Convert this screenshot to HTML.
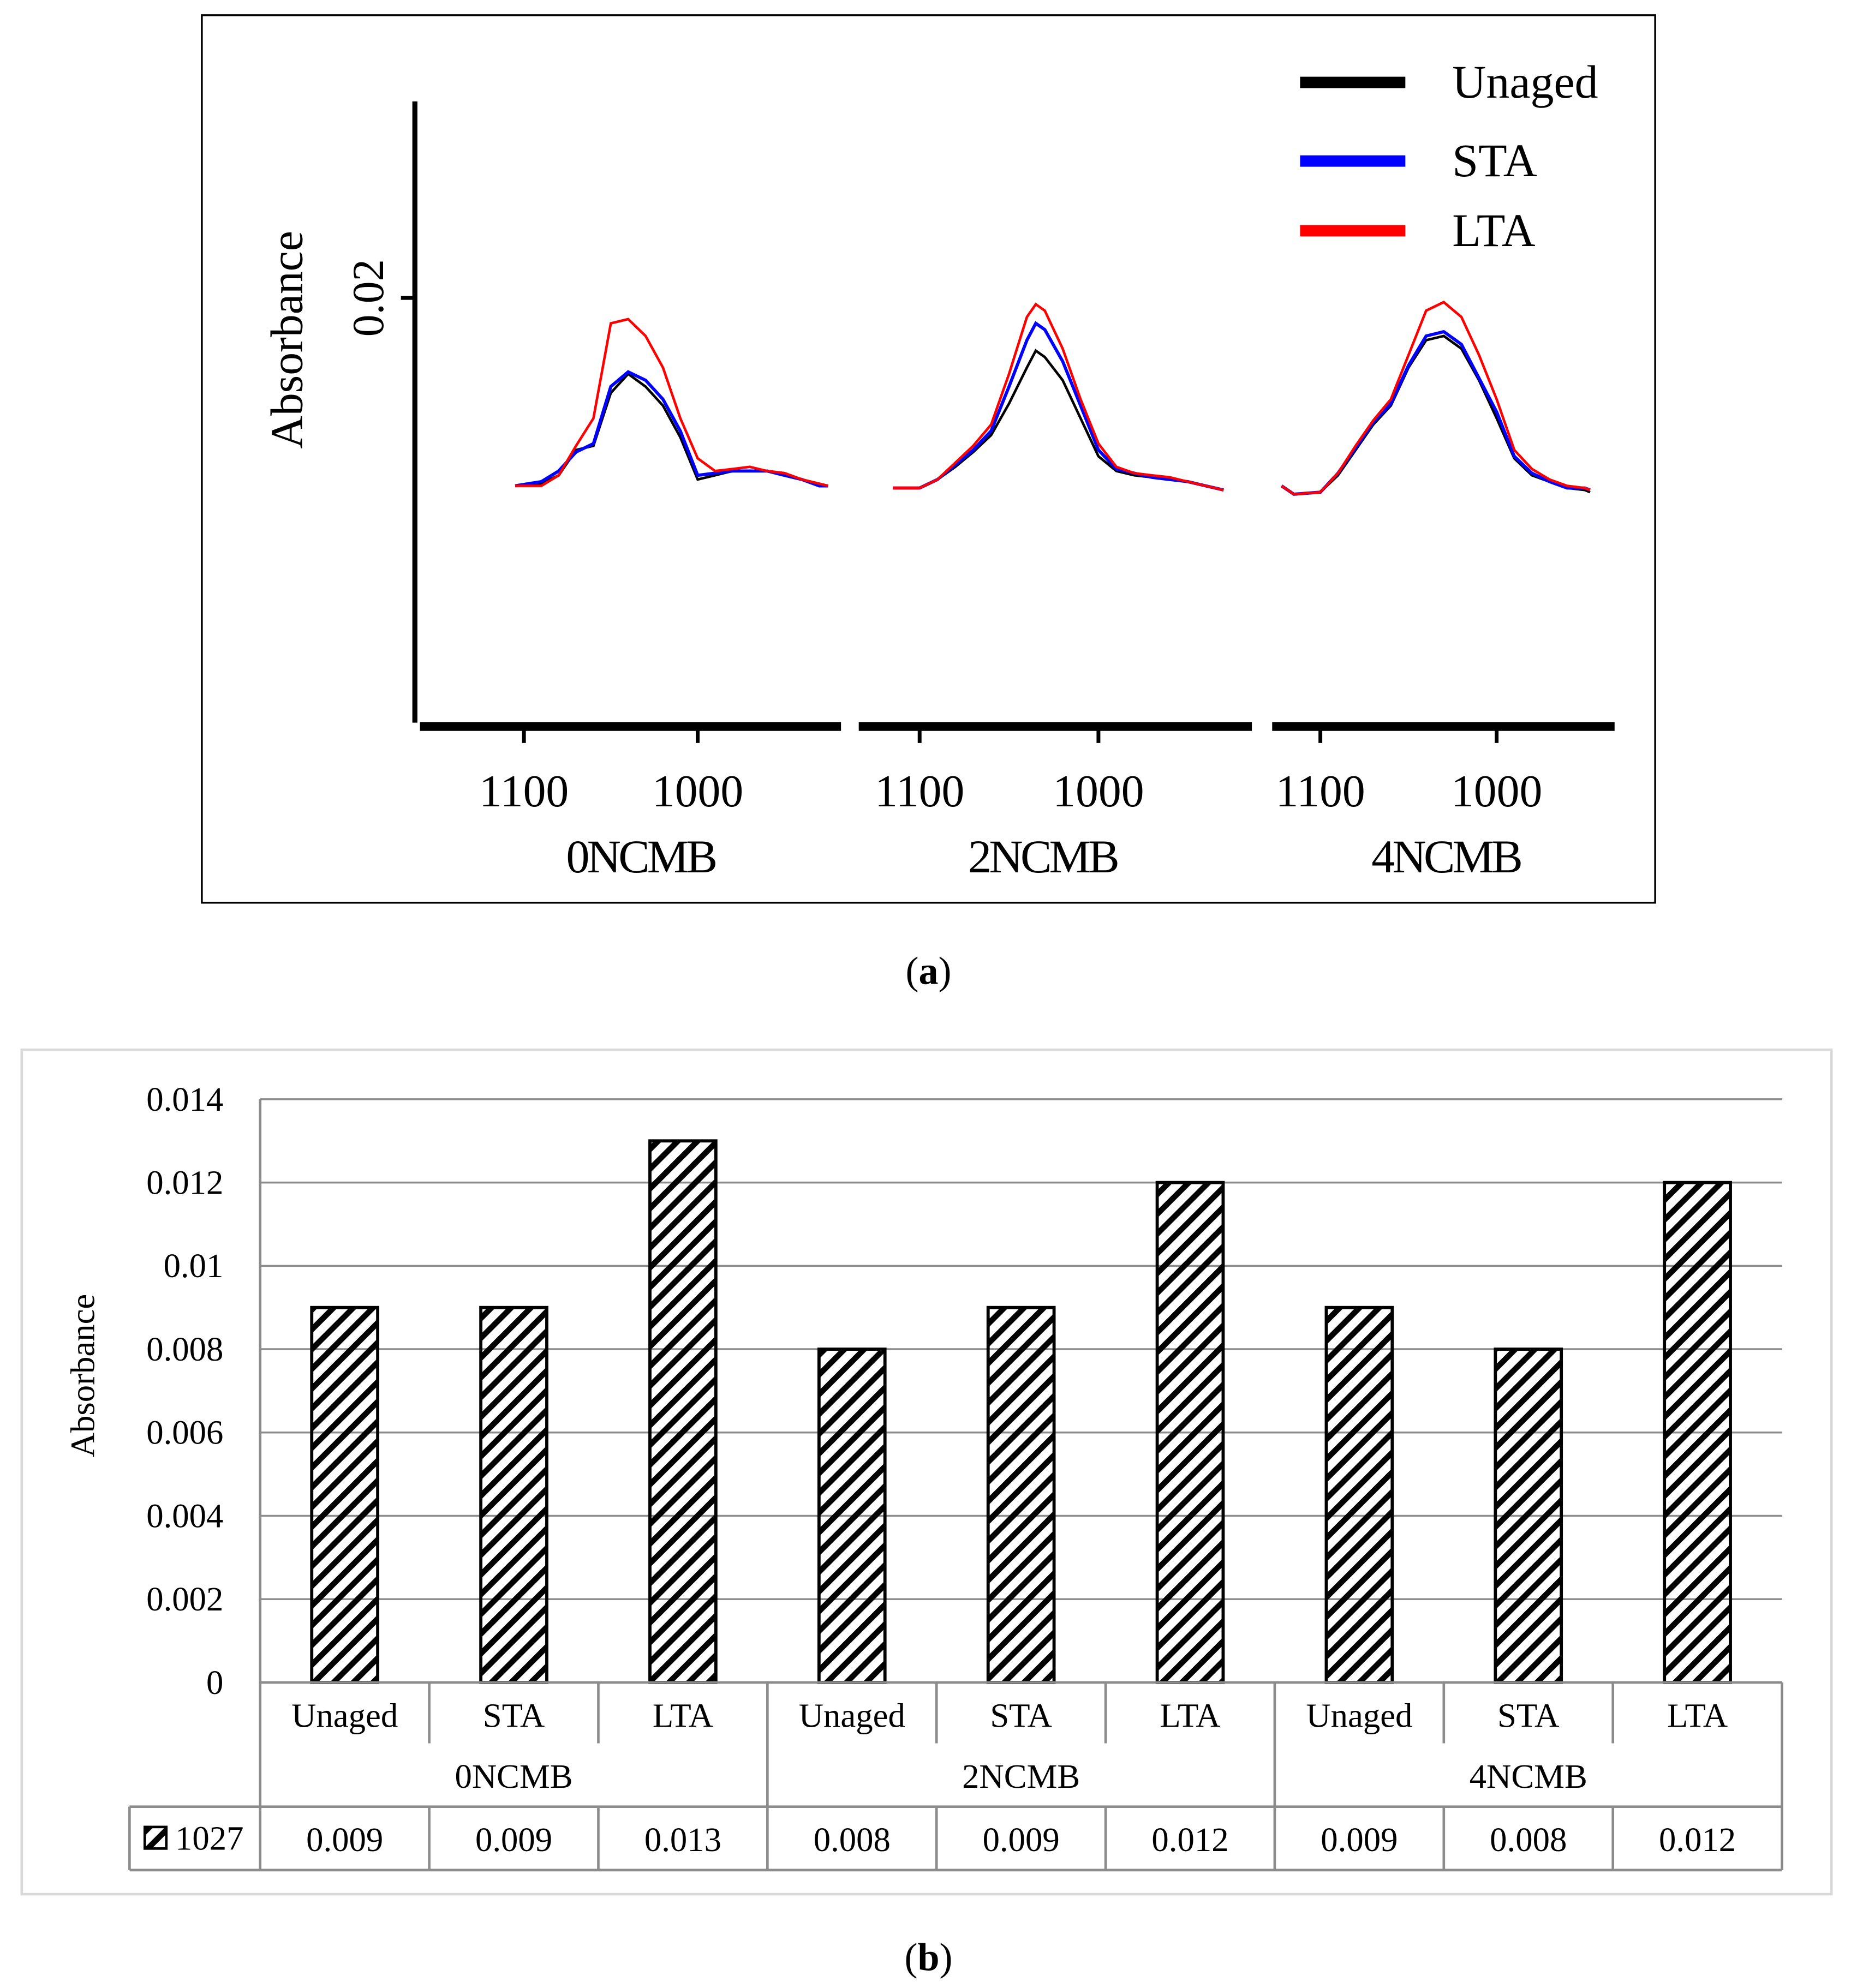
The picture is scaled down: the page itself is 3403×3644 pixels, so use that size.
<!DOCTYPE html>
<html><head><meta charset="utf-8"><style>
html,body{margin:0;padding:0;background:#fff}
svg{display:block}
text{font-family:"Liberation Serif",serif}
</style></head><body>
<svg id="fig" width="3403" height="3644" viewBox="0 0 1464 1568" xmlns="http://www.w3.org/2000/svg">
<defs>
<pattern id="hatch" width="11" height="11" patternUnits="userSpaceOnUse" patternTransform="rotate(45)">
<rect x="0" y="0" width="4.5" height="11" fill="#000"/>
</pattern>
</defs>
<rect x="159" y="12" width="1146" height="700" fill="#fff" stroke="#000" stroke-width="1.5"/>
<g id="pa"></g>
<text x="732" y="776" font-size="31" text-anchor="middle">(<tspan font-weight="bold">a</tspan>)</text>
<rect x="17" y="828" width="1427" height="666" fill="#fff" stroke="#d9d9d9" stroke-width="2"/>
<g id="pb"></g>
<text x="732" y="1554" font-size="31" text-anchor="middle">(<tspan font-weight="bold">b</tspan>)</text>
</svg>
<script>
// ---------- Panel (a) data: absorbance x1000 ----------
const aWave0 = [1105,1090,1080,1070,1060,1050,1040,1030,1020,1010,1000,990,980,970,960,950,940,930,925];
const aUnaged0 = [11.1,11.2,11.6,12.8,13.0,15.5,16.4,15.8,14.9,13.4,11.4,11.6,11.8,11.8,11.8,11.7,11.4,11.2,11.1];
const aSTA0    = [11.1,11.3,11.8,12.7,13.1,15.8,16.5,16.1,15.2,13.7,11.6,11.7,11.8,11.8,11.8,11.6,11.4,11.1,11.1];
const aLTA0    = [11.1,11.1,11.6,13.0,14.3,18.8,19.0,18.2,16.7,14.3,12.4,11.8,11.9,12.0,11.8,11.7,11.4,11.2,11.1];
const aWave2 = [1115,1100,1090,1080,1070,1060,1050,1040,1035,1030,1020,1010,1000,990,980,970,960,950,940,930];
const aUnaged2 = [11.0,11.0,11.4,12.0,12.7,13.5,15.0,16.7,17.5,17.2,16.1,14.3,12.5,11.8,11.6,11.5,11.4,11.3,11.1,10.9];
const aSTA2    = [11.0,11.0,11.4,12.1,12.8,13.7,15.8,18.0,18.8,18.5,17.0,14.9,12.8,11.9,11.7,11.5,11.4,11.3,11.1,10.9];
const aLTA2    = [11.0,11.0,11.4,12.2,13.0,14.0,16.4,19.1,19.7,19.4,17.6,15.2,13.1,12.0,11.7,11.6,11.5,11.3,11.1,10.9];
const aWave4 = [1122,1115,1100,1090,1080,1070,1060,1050,1040,1030,1020,1010,1000,990,980,970,960,950,947];
const aUnaged4 = [11.1,10.7,10.8,11.6,12.8,14.0,14.9,16.7,18.0,18.2,17.6,16.1,14.3,12.4,11.6,11.3,11.0,10.9,10.8];
const aSTA4    = [11.1,10.7,10.8,11.7,12.9,14.1,15.0,16.8,18.2,18.4,17.8,16.2,14.6,12.5,11.7,11.3,11.0,11.0,10.9];
const aLTA4    = [11.1,10.7,10.8,11.7,13.0,14.2,15.2,17.3,19.4,19.8,19.1,17.3,15.2,12.8,11.9,11.4,11.1,11.0,10.9];
const aTickWave = [1100,1000];
const aGroups = ["0NCMB","2NCMB","4NCMB"];
const aSeriesNames = ["Unaged","STA","LTA"];
const aColors = ["#000","#0000ff","#ff0000"];

// ---------- Panel (b) data ----------
const bCats = ["Unaged","STA","LTA","Unaged","STA","LTA","Unaged","STA","LTA"];
const bGroups = ["0NCMB","2NCMB","4NCMB"];
const bValues = [0.009,0.009,0.013,0.008,0.009,0.012,0.009,0.008,0.012];
const bValueLabels = ["0.009","0.009","0.013","0.008","0.009","0.012","0.009","0.008","0.012"];
const bTicks = [0,0.002,0.004,0.006,0.008,0.01,0.012,0.014];
const bTickLabels = ["0","0.002","0.004","0.006","0.008","0.01","0.012","0.014"];

const NS="http://www.w3.org/2000/svg";
function mk(parent,tag,attrs,txt){const e=document.createElementNS(NS,tag);for(const k in attrs)e.setAttribute(k,attrs[k]);if(txt!==undefined)e.textContent=txt;parent.appendChild(e);return e;}

// ---- Panel a ----
const pa=document.getElementById('pa');
const ayA=v=>568-v*16.65;
const segs=[
 {x0:331,x1:663,t1100:413,t1000:550,lx:505,w:aWave0,s:[aUnaged0,aSTA0,aLTA0]},
 {x0:677,x1:987,t1100:725,t1000:866,lx:822,w:aWave2,s:[aUnaged2,aSTA2,aLTA2]},
 {x0:1003,x1:1273,t1100:1041,t1000:1180,lx:1140,w:aWave4,s:[aUnaged4,aSTA4,aLTA4]}];
let e;
e=mk(pa,'line',{x1:327,y1:80,x2:327,y2:570,stroke:'#000','stroke-width':4});


e=mk(pa,'line',{x1:316,y1:ayA(20),x2:327,y2:ayA(20),stroke:'#000','stroke-width':3});


e=mk(pa,'text',{x:0,y:0,'font-size':35,'text-anchor':'middle',transform:`translate(302,${ayA(20)}) rotate(-90)`},'0.02');


e=mk(pa,'text',{x:0,y:0,'font-size':36,'text-anchor':'middle',transform:'translate(238,268) rotate(-90)'},'Absorbance');


segs.forEach((sg,gi)=>{
  const sc=(sg.t1000-sg.t1100)/(1000-1100);
  const xs=w=>sg.t1100+(w-1100)*sc;
  e=mk(pa,'line',{x1:sg.x0,y1:573,x2:sg.x1,y2:573,stroke:'#000','stroke-width':7});
  
  
  aTickWave.forEach(t=>{
    e=mk(pa,'line',{x1:xs(t),y1:573,x2:xs(t),y2:586,stroke:'#000','stroke-width':3});
    
    
    e=mk(pa,'text',{x:xs(t),y:636,'font-size':36,'text-anchor':'middle'},String(t));
    
    
  });
  e=mk(pa,'text',{x:sg.lx,y:688,'font-size':37,'text-anchor':'middle','letter-spacing':'-2'},aGroups[gi]);
  
  
  sg.s.forEach((arr,si)=>{
    const pts=arr.map((v,i)=>xs(sg.w[i]).toFixed(1)+','+ayA(v).toFixed(1)).join(' ');
    e=mk(pa,'polyline',{points:pts,fill:'none',stroke:aColors[si],'stroke-width':si===1?2.5:2});
    
    
  });
});
[65,127,182].forEach((y,i)=>{
  e=mk(pa,'line',{x1:1025,y1:y,x2:1108,y2:y,stroke:aColors[i],'stroke-width':9});
  
  
  e=mk(pa,'text',{x:1145,y:y+12,'font-size':37},aSeriesNames[i]);
  
  
});

// ---- Panel b ----
const pb=document.getElementById('pb');
const L=205,R=1405,Y0=1327,Ytop=867,vmax=0.014;
const yb=v=>Y0-(v/vmax)*(Y0-Ytop);
const cw=(R-L)/bCats.length;
const cx=i=>L+cw*(i+0.5);
const G='#8c8c8c';
bTicks.forEach((t,i)=>{
  if(i>0){e=mk(pb,'line',{x1:L,y1:yb(t),x2:R,y2:yb(t),stroke:G,'stroke-width':1.5});
  
  }
  e=mk(pb,'text',{x:176,y:yb(t)+9,'font-size':27,'text-anchor':'end'},bTickLabels[i]);
  
  
});
e=mk(pb,'text',{x:0,y:0,'font-size':27,'text-anchor':'middle',transform:'translate(74,1085) rotate(-90)'},'Absorbance');


bValues.forEach((v,i)=>{
  e=mk(pb,'rect',{x:cx(i)-26,y:yb(v),width:52,height:Y0-yb(v),fill:'url(#hatch)',stroke:'#000','stroke-width':2.5});
  
  
  e=mk(pb,'text',{x:cx(i),y:1362,'font-size':27,'text-anchor':'middle'},bCats[i]);
  
  
  e=mk(pb,'text',{x:cx(i),y:1460,'font-size':27,'text-anchor':'middle'},bValueLabels[i]);
  
  
});
bGroups.forEach((g,i)=>{
  e=mk(pb,'text',{x:L+cw*(3*i+1.5),y:1410,'font-size':27,'text-anchor':'middle'},g);
  
  
});
const lines=[[L,Ytop,L,1475],[L,Y0,R,Y0],[102,1425,R,1425],[102,1475,R,1475],[102,1425,102,1475],[R,Y0,R,1475]];
for(let i=1;i<bCats.length;i++){
  const x=L+cw*i;
  if(i%3===0)lines.push([x,Y0,x,1475]);else{lines.push([x,Y0,x,1375]);lines.push([x,1425,x,1475]);}
}
lines.forEach(l=>{
  e=mk(pb,'line',{x1:l[0],y1:l[1],x2:l[2],y2:l[3],stroke:G,'stroke-width':2});
  
  
});
e=mk(pb,'rect',{x:114,y:1441,width:17,height:17,fill:'url(#hatch)',stroke:'#000','stroke-width':2});


e=mk(pb,'text',{x:138,y:1459,'font-size':27},'1027');


</script>
</body></html>
